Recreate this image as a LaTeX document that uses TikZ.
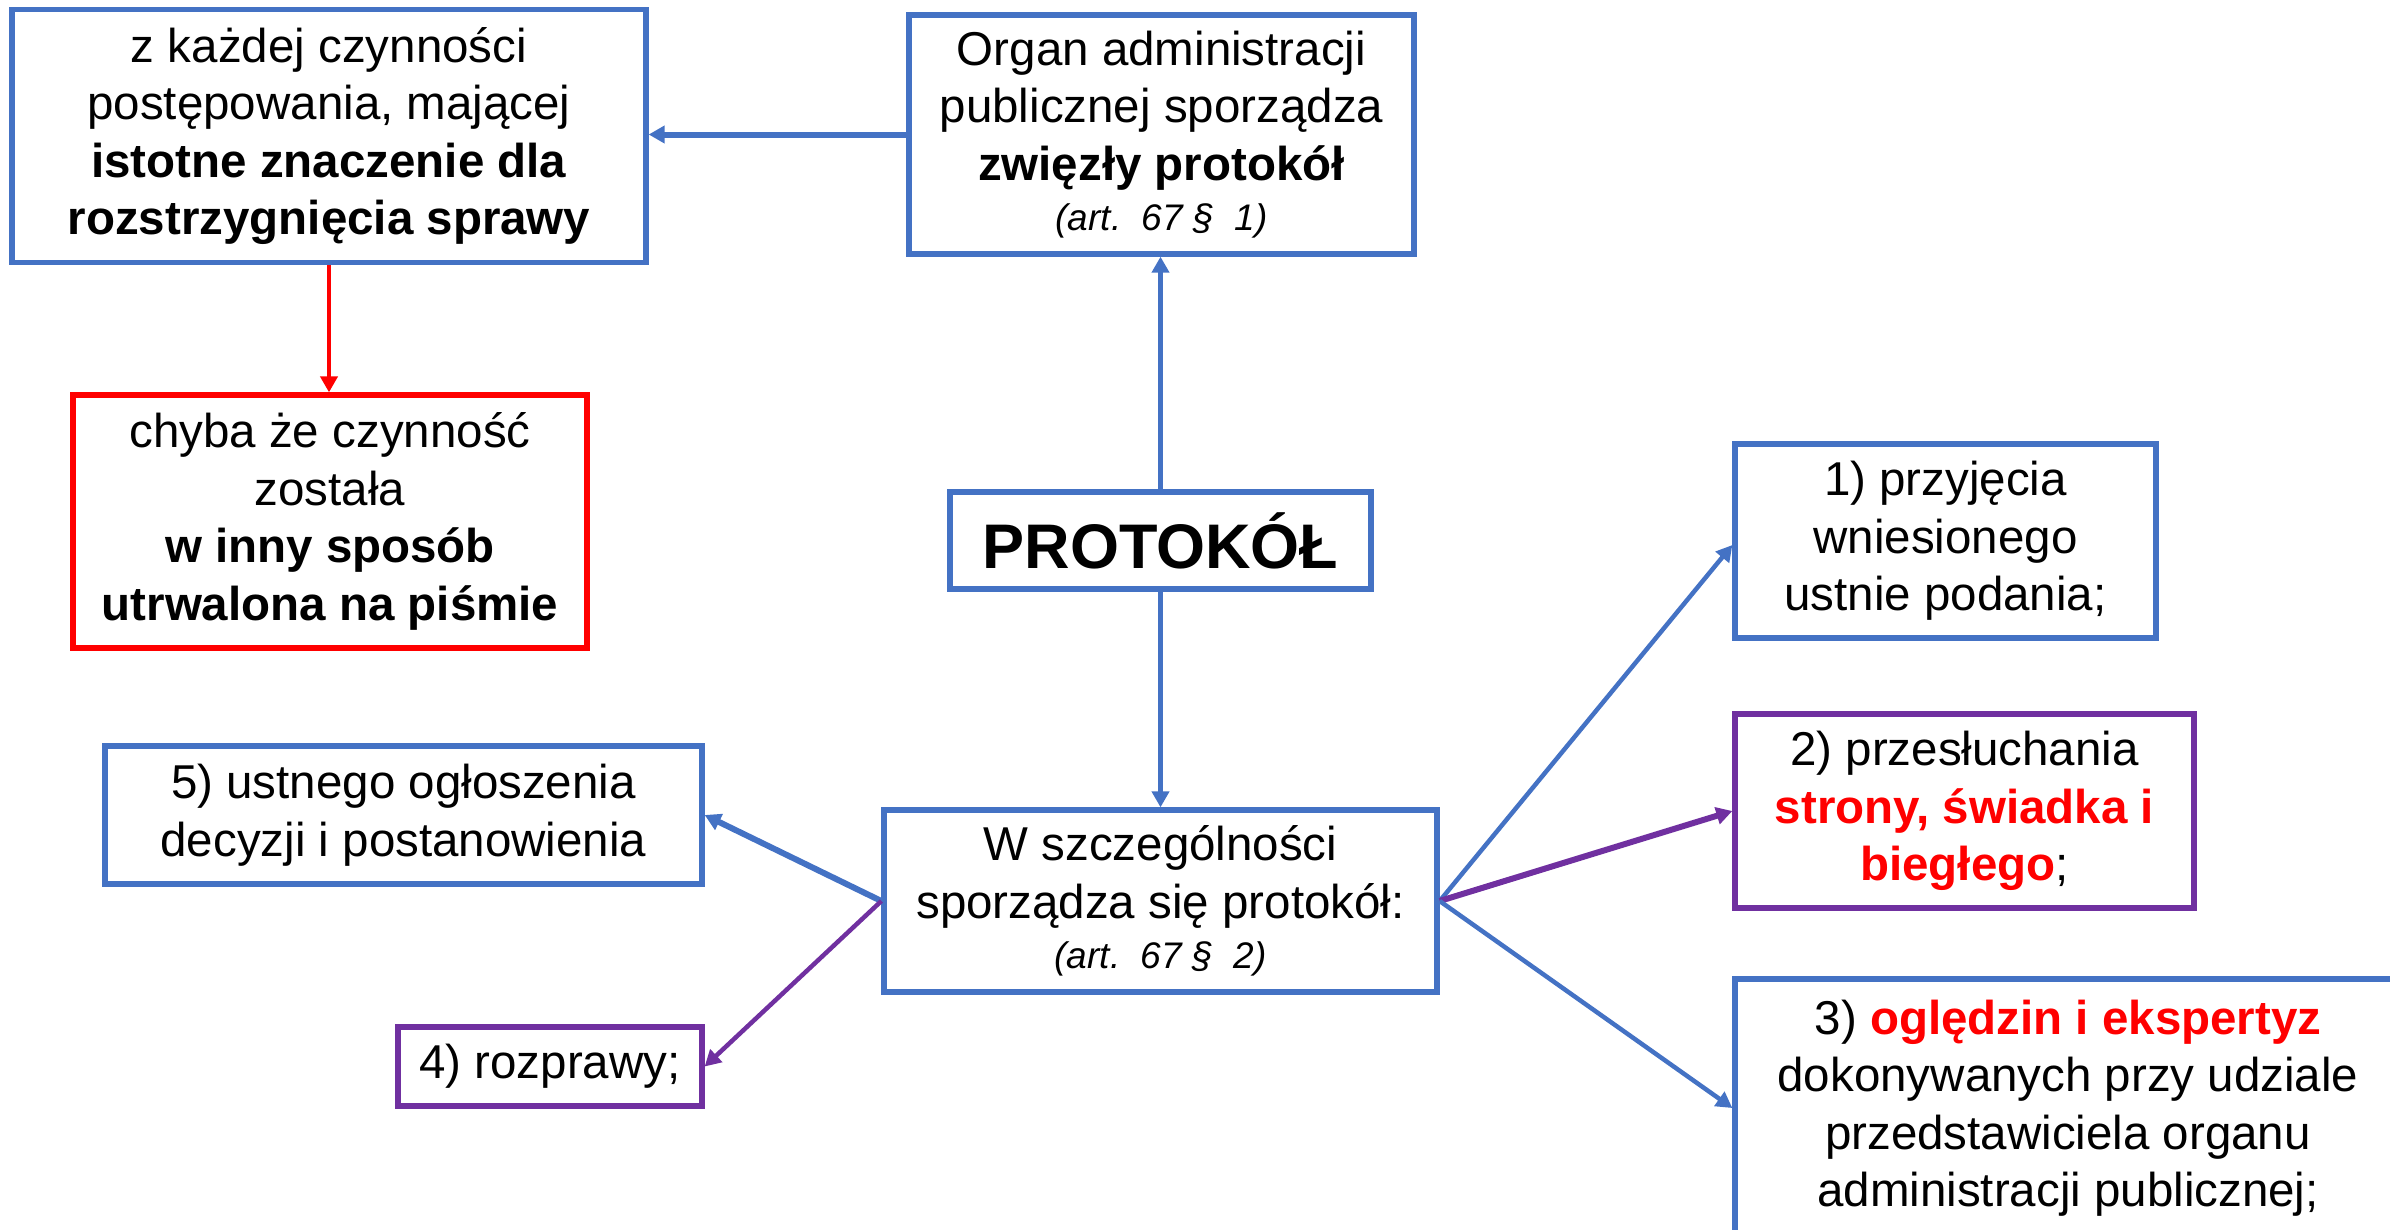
\documentclass[tikz,border=0pt]{standalone}
\usepackage{fontspec}
\setmainfont{Liberation Sans}
\usetikzlibrary{arrows.meta,calc}
\definecolor{myblue}{HTML}{4472C4}
\definecolor{mypurple}{HTML}{7030A0}
\definecolor{myred}{HTML}{FF0000}
\newcommand{\fsmain}{\fontsize{47.5}{57.5}\selectfont}
\newcommand{\fsart}{\fontsize{37}{50}\selectfont\itshape}
\newcommand{\fsbig}{\fontsize{63}{70}\selectfont\bfseries}
\begin{document}
\begin{tikzpicture}[x=1pt,y=-1pt,
  box/.style={draw=myblue, line width=5.3pt, fill=white, inner sep=0pt, align=center, font=\fsmain},
  redbox/.style={box, draw=myred},
  purplebox/.style={box, draw=mypurple},
  tip/.style={-{Triangle[length=16pt,width=17pt]}},
  bconn/.style={tip, draw=myblue, line width=4.5pt},
  bthick/.style={tip, draw=myblue, line width=6pt},
  rconn/.style={tip, draw=myred, line width=4.5pt},
  pconn/.style={tip, draw=mypurple, line width=4.5pt},
  pthick/.style={tip, draw=mypurple, line width=6pt}
]
\path[use as bounding box] (0,0) rectangle (2390,1229);
\clip (0,0) rectangle (2390,1229);

\node[box, minimum width=634pt, minimum height=253pt] (A) at (329,136)
  {z każdej czynności\\postępowania, mającej\\\textbf{istotne znaczenie dla}\\\textbf{rozstrzygnięcia sprawy}};
\node[box, minimum width=505pt, minimum height=239pt] (B) at (1161.5,134.5)
  {Organ administracji\\publicznej sporządza\\\textbf{zwięzły protokół}\\[-7pt]{\fsart (art.~~67~§~~1)}};
\node[redbox, minimum width=514pt, minimum height=253pt] (C) at (330,521.5)
  {chyba że czynność\\została\\\textbf{w inny sposób}\\\textbf{utrwalona na piśmie}};
\node[box, minimum width=421pt, minimum height=97pt, font=\fsbig] (P) at (1160.5,540.5) {PROTOKÓŁ};
\node[box, minimum width=553pt, minimum height=182pt] (W) at (1160.5,901)
  {W szczególności\\sporządza się protokół:\\[-7pt]{\fsart (art.~~67~§~~2)}};
\node[box, minimum width=597pt, minimum height=138pt] (five) at (403.5,815)
  {5) ustnego ogłoszenia\\decyzji i postanowienia};
\node[purplebox, minimum width=304pt, minimum height=79pt] (four) at (550,1066.5)
  {4) rozprawy;};
\node[box, minimum width=421pt, minimum height=194pt] (one) at (1945.5,541)
  {1) przyjęcia\\wniesionego\\ustnie podania;};
\node[purplebox, minimum width=459pt, minimum height=194pt] (two) at (1964.5,811)
  {2) przesłuchania\\\textcolor{myred}{\textbf{strony, świadka i}}\\\textcolor{myred}{\textbf{biegłego}};};
\node[box, minimum width=666pt, minimum height=258pt] (three) at (2068,1108)
  {3) \textcolor{myred}{\textbf{oględzin i ekspertyz}}\\dokonywanych przy udziale\\przedstawiciela organu\\administracji publicznej;};

\draw[bthick] (B.west) -- (A.east |- B.west);
\draw[rconn] (A.south) -- (A.south |- C.north);
\draw[bconn] (P.north) -- (P.north |- B.south);
\draw[bconn] (P.south) -- (P.south |- W.north);
\draw[bthick] (W.west) -- (five.east);
\draw[pconn] (W.west) -- (four.east);
\draw[bconn] (W.east) -- ([yshift=-4pt]one.west);
\draw[pthick] (W.east) -- (two.west);
\draw[bconn] (W.east) -- (three.west);
\end{tikzpicture}
\end{document}
